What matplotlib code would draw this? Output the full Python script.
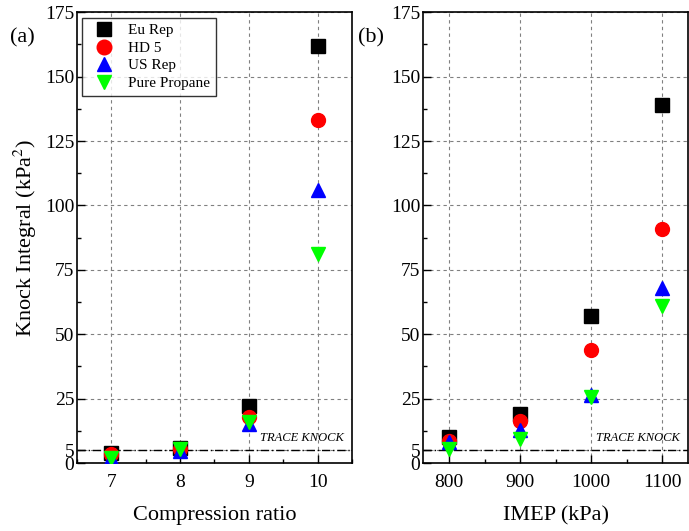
import matplotlib.pyplot as plt
import matplotlib.transforms as mtransforms
from matplotlib.ticker import MultipleLocator

plt.rcParams['font.family'] = ['Liberation Serif', 'DejaVu Serif']
plt.rcParams['mathtext.fontset'] = 'stix'

# compression ratio sweep
cr = [7, 8, 9, 10]
cr_eu = [4, 6, 22, 162]
cr_hd5 = [3.5, 5.5, 18, 133]
cr_us = [2, 4.5, 15, 106]
cr_prop = [2, 5.5, 16, 81]

# IMEP sweep
imep = [800, 900, 1000, 1100]
imep_eu = [10, 19, 57, 139]
imep_hd5 = [8.5, 16.5, 44, 91]
imep_us = [8, 13, 26.5, 68]
imep_prop = [5.5, 9.5, 25.5, 61]

names = ['Eu Rep', 'HD 5', 'US Rep', 'Pure Propane']
markers = ['s', 'o', '^', 'v']
colors = ['black', 'red', 'blue', '#00ff00']
yticks = [0, 5, 25, 50, 75, 100, 125, 150, 175]
trace = 5

fig = plt.figure(figsize=(6.89, 5.31), dpi=100)
ax1 = fig.add_axes([0.1118, 0.128, 0.399, 0.849])
ax2 = fig.add_axes([0.614, 0.128, 0.385, 0.849])


def draw(ax, x, series, xlim, xminor, xlabel):
    for y, m, c, n in zip(series, markers, colors, names):
        ax.plot(x, y, linestyle='none', marker=m, color=c, markersize=10,
                label=n, zorder=3)
    ax.axhline(trace, color='black', linestyle=(0, (6, 2, 1, 2)), lw=1, zorder=2)
    trans = mtransforms.blended_transform_factory(ax.transAxes, ax.transData)
    ax.text(0.97, trace + 2.5, 'TRACE KNOCK', transform=trans, ha='right',
            va='bottom', fontstyle='italic', fontsize=9)
    ax.set_xlim(*xlim)
    ax.set_ylim(0, 175)
    ax.set_xticks(x)
    ax.xaxis.set_minor_locator(MultipleLocator(xminor))
    ax.set_yticks(yticks)
    ax.yaxis.set_minor_locator(MultipleLocator(12.5))
    ax.tick_params(which='both', direction='in', labelsize=14)
    ax.tick_params(which='major', length=6, width=1)
    ax.tick_params(which='minor', length=3, width=1)
    ax.tick_params(axis='y', pad=2)
    ax.tick_params(axis='x', pad=8)
    ax.grid(True, which='major', linestyle=(0, (3, 3)), color='gray', lw=0.8)
    ax.set_xlabel(xlabel, fontsize=16, labelpad=11)
    for s in ax.spines.values():
        s.set_linewidth(1.2)


draw(ax1, cr, [cr_eu, cr_hd5, cr_us, cr_prop], (6.5, 10.5), 0.5,
     'Compression ratio')
draw(ax2, imep, [imep_eu, imep_hd5, imep_us, imep_prop], (763, 1137), 50,
     'IMEP (kPa)')

ax1.set_ylabel('Knock Integral (kPa$^2$)', fontsize=16, labelpad=4)
leg = ax1.legend(loc='upper left', fontsize=11, frameon=True, fancybox=False,
                 edgecolor='black', borderaxespad=0.35, handletextpad=0.6,
                 labelspacing=0.25, markerscale=1.05)
leg.get_frame().set_linewidth(1)

fig.text(0.015, 0.92, '(a)', fontsize=16)
fig.text(0.52, 0.92, '(b)', fontsize=16)

fig.savefig('out.png', dpi=100)
